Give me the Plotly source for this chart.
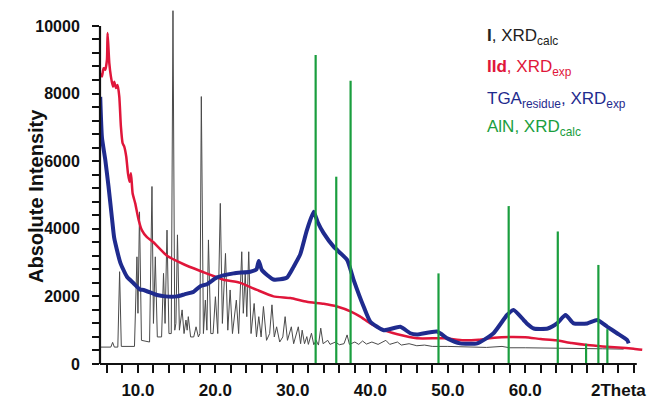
import plotly.graph_objects as go

# ---------------- data ----------------
# I, XRD_calc  (calculated pattern: peaks and valleys)
black_pts = [
    (5.1, 500), (6.5, 500), (6.73, 640), (6.95, 500), (7.4, 500), (7.63, 2730), (7.85, 520),
    (9.55, 520), (9.87, 3170), (10.0, 1500), (10.2, 4500), (10.45, 700), (11.5, 650),
    (11.81, 5250), (12.0, 1200), (12.24, 3170), (12.5, 800), (13.05, 800), (13.3, 2680),
    (13.5, 1200), (13.75, 3960), (14.0, 900), (14.3, 900), (14.52, 10450), (14.75, 1000),
    (14.9, 1200), (15.1, 3820), (15.35, 1000), (15.7, 1600), (15.95, 900), (16.2, 1300),
    (16.35, 1000), (16.5, 1400), (16.8, 800), (17.2, 800), (17.5, 1100), (17.8, 800),
    (18.0, 900), (18.18, 7910), (18.45, 900), (18.7, 1890), (18.9, 1000), (19.1, 3670),
    (19.4, 900), (19.7, 900), (20.0, 1990), (20.3, 900), (20.63, 4750), (20.9, 1200),
    (21.3, 3270), (21.6, 1000), (21.9, 2190), (22.2, 900), (22.7, 1890), (23.0, 900),
    (23.4, 3320), (23.6, 1500), (23.85, 2680), (24.05, 1400), (24.3, 3320), (24.6, 900),
    (25.0, 1790), (25.3, 800), (25.6, 1400), (25.9, 800), (26.2, 1700), (26.6, 700),
    (27.0, 900), (27.3, 1750), (27.6, 800), (27.9, 1100), (28.3, 650), (28.7, 800),
    (29.0, 1400), (29.3, 700), (29.8, 1100), (30.1, 600), (30.7, 1100), (31.0, 600),
    (31.2, 1000), (31.5, 600), (31.8, 810), (32.0, 580), (32.4, 910), (32.7, 570),
    (33.0, 700), (33.3, 560), (33.6, 1060), (33.9, 600), (34.5, 700), (34.8, 580),
    (35.5, 650), (36.0, 570), (36.6, 600), (37.0, 860), (37.3, 580), (38.0, 650),
    (38.5, 580), (39.0, 680), (39.5, 590), (40.2, 650), (41.0, 580), (42.0, 700),
    (42.5, 580), (43.5, 650), (44.0, 560), (45.0, 600), (46.0, 540), (47.0, 560),
    (48.0, 520), (50.0, 520), (52.0, 500), (55.0, 490), (57.0, 520), (58.0, 480),
    (60.0, 480), (62.0, 470), (64.0, 480), (66.0, 460), (68.0, 460), (70.0, 450), (72.7, 440),
]
black_x = [p[0] for p in black_pts]
black_y = [p[1] for p in black_pts]

# IId, XRD_exp
red_x = [5.2, 5.35, 5.56, 5.78, 6.0, 6.08, 6.3, 6.51, 6.77, 6.94, 7.16, 7.37, 7.59, 7.8,
         8.02, 8.23, 8.49, 8.71, 8.92, 9.1, 9.31, 9.65, 10.09, 10.5, 11.16, 12.0, 13.75,
         15.9, 18.05, 20.0, 21.06, 23.2, 25.37, 27.5, 29.67, 31.8, 33.97, 35.7, 37.5,
         38.7, 40.0, 41.7, 43.5, 46.0, 49.5, 52.0, 54.0, 56.0, 58.0, 60.0, 62.0, 64.0,
         66.0, 68.0, 70.0, 72.0, 74.0, 75.1]
red_y = [8600, 8500, 8750, 8700, 9000, 9790, 8900, 8500, 8200, 8350, 8160, 8250, 7910, 7020,
         6530, 6430, 6130, 5640, 5390, 5640, 5050, 4750, 4260, 3960, 3750, 3600, 3200,
         2950, 2750, 2580, 2490, 2400, 2190, 2000, 1950, 1840, 1780, 1700, 1550,
         1400, 1200, 1000, 880, 760, 760, 700, 720, 780, 800, 790, 740, 700,
         620, 560, 520, 490, 450, 420]

# TGA_residue, XRD_exp
blue_x = [5.13, 5.35, 5.78, 6.2, 6.65, 6.94, 7.72, 8.58, 9.43, 10.3, 10.73, 12.46, 13.5,
          15.04, 16.0, 17.2, 18.05, 18.9, 20.2, 22.35, 24.5, 25.3, 25.6, 26.0, 27.5, 29.2,
          30.1, 30.96, 31.8, 32.68, 33.2, 33.97, 35.26, 37.0, 37.84, 39.13, 40.0, 41.72,
          43.87, 45.15, 46.0, 48.6, 50.0, 51.6, 53.8, 55.9, 57.65, 58.5, 59.8, 60.2, 61.1,
          62.9, 64.1, 65.2, 66.25, 68.0, 69.3, 70.6, 71.85, 73.15, 73.35]
blue_y = [7900, 6700, 6040, 5250, 4300, 3720, 3000, 2580, 2390, 2200, 2190, 2040, 2000,
          2000, 2060, 2140, 2300, 2360, 2560, 2680, 2730, 2800, 3050, 2780, 2500, 2550,
          2880, 3250, 3950, 4500, 4200, 3870, 3470, 3080, 2490, 1700, 1250, 1000,
          1100, 910, 870, 960, 750, 610, 610, 910, 1450, 1600, 1300, 1200, 1050,
          1050, 1200, 1450, 1200, 1200, 1300, 1100, 910, 710, 610]

# AlN, XRD_calc (stick pattern)
green_pos = [32.94, 35.6, 37.45, 48.8, 57.86, 64.2, 67.85, 69.44, 70.6]
green_int = [9140, 5540, 8380, 2680, 4670, 3920, 600, 2930, 1030]

# axis ticks
x_ticks = list(range(6, 75, 2))
x_labels = ["10.0", "20.0", "30.0", "40.0", "50.0", "60.0"]
x_label_vals = [10, 20, 30, 40, 50, 60]
y_ticks = list(range(0, 10001, 400))
y_label_vals = [0, 2000, 4000, 6000, 8000, 10000]

# ---------------- figure ----------------
FONT = "Liberation Sans"
RED = "#e0163a"
BLUE = "#1f2b8e"
GREEN = "#1a9e3e"
BLACK = "#4a4a4a"

fig = go.Figure()
fig.add_trace(go.Scatter(x=black_x, y=black_y, mode="lines",
                         line=dict(color=BLACK, width=1), hoverinfo="skip"))
fig.add_trace(go.Scatter(x=red_x, y=red_y, mode="lines",
                         line=dict(color=RED, width=2.5, shape="spline", smoothing=0.5),
                         hoverinfo="skip"))
fig.add_trace(go.Scatter(x=blue_x, y=blue_y, mode="lines",
                         line=dict(color=BLUE, width=4, shape="spline", smoothing=0.5),
                         hoverinfo="skip"))
gx, gy = [], []
for p, h in zip(green_pos, green_int):
    gx += [p, p, None]
    gy += [0, h, None]
fig.add_trace(go.Scatter(x=gx, y=gy, mode="lines",
                         line=dict(color=GREEN, width=2.2), hoverinfo="skip"))

x_text = [x_labels[x_label_vals.index(v)] if v in x_label_vals else "" for v in x_ticks]
y_text = [str(v) if v in y_label_vals else "" for v in y_ticks]

fig.update_layout(
    width=651, height=399,
    margin=dict(l=100, r=8, t=9, b=35, autoexpand=False),
    paper_bgcolor="white", plot_bgcolor="white",
    showlegend=False,
    xaxis=dict(range=[5.1, 75.2], tickvals=x_ticks, ticktext=x_text,
               ticks="outside", ticklen=8, tickwidth=2, tickcolor="#111",
               showgrid=False, zeroline=False, showline=False, automargin=False,
               tickfont=dict(family=FONT, size=17, color="#111", weight="bold"),
               ticklabelstandoff=3),
    yaxis=dict(range=[0, 10500], tickvals=y_ticks, ticktext=y_text,
               ticks="outside", ticklen=7, tickwidth=2, tickcolor="#111",
               showgrid=False, zeroline=False, showline=False, automargin=False,
               tickfont=dict(family=FONT, size=16, color="#111", weight="bold"),
               ticklabelstandoff=9),
)

# axis lines (y axis ends at 10000 as in the reference)
fig.add_shape(type="line", xref="paper", yref="y", x0=0, x1=0, y0=0, y1=10000,
              line=dict(color="#111", width=2.2))
fig.add_shape(type="line", xref="x", yref="paper", x0=5.1, x1=74.4, y0=0, y1=0,
              line=dict(color="#111", width=2.2))

# axis titles
fig.add_annotation(text="Absolute Intensity", xref="paper", yref="paper",
                   x=-0.142, y=0.473, textangle=-90, showarrow=False,
                   font=dict(family=FONT, size=20, color="#111", weight="bold"))
fig.add_annotation(text="2Theta", xref="paper", yref="paper",
                   x=1.009, y=-0.076, xanchor="right", yanchor="middle", showarrow=False,
                   font=dict(family=FONT, size=17, color="#111", weight="bold"))

# legend as text
legend_items = [
    ("<b>I</b>, XRD<sub>calc</sub>", "#222222", 0.921),
    ("<b>IId</b>, XRD<sub>exp</sub>", RED, 0.834),
    ("TGA<sub>residue</sub>, XRD<sub>exp</sub>", BLUE, 0.744),
    ("AlN, XRD<sub>calc</sub>", GREEN, 0.665),
]
for txt, col, yy in legend_items:
    fig.add_annotation(text=txt, xref="paper", yref="paper", x=0.709, y=yy,
                       xanchor="left", yanchor="middle", showarrow=False,
                       font=dict(family=FONT, size=17, color=col))

fig.write_html("out.html")
